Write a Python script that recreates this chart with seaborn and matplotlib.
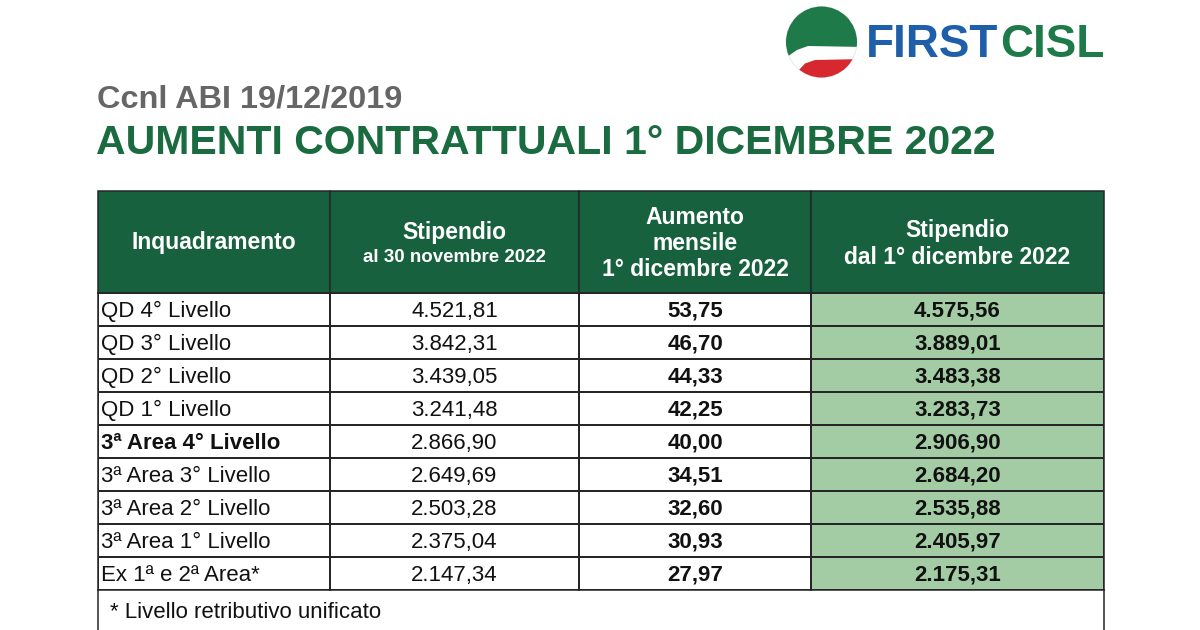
import numpy as np
import pandas as pd
import matplotlib.pyplot as plt
import matplotlib.patches as mpatches
from matplotlib.colors import ListedColormap
import seaborn as sns

# Table data
inquadramento = ["QD 4° Livello", "QD 3° Livello", "QD 2° Livello", "QD 1° Livello",
                 "3ª Area 4° Livello", "3ª Area 3° Livello", "3ª Area 2° Livello",
                 "3ª Area 1° Livello", "Ex 1ª e 2ª Area*"]
stipendio_nov = [4521.81, 3842.31, 3439.05, 3241.48, 2866.90, 2649.69, 2503.28, 2375.04, 2147.34]
aumento = [53.75, 46.70, 44.33, 42.25, 40.00, 34.51, 32.60, 30.93, 27.97]
stipendio_dic = [4575.56, 3889.01, 3483.38, 3283.73, 2906.90, 2684.20, 2535.88, 2405.97, 2175.31]
bold_rows = ["3ª Area 4° Livello"]

headers = [["Inquadramento"],
           ["Stipendio", "al 30 novembre 2022"],
           ["Aumento", "mensile", "1° dicembre 2022"],
           ["Stipendio", "dal 1° dicembre 2022"]]
footnote = "* Livello retributivo unificato"

DARK_GREEN = "#17613f"
LIGHT_GREEN = "#a3cca5"
TITLE_GREEN = "#1b6b40"
LINE = "#262626"

sns.set_theme(style="white")
plt.rcParams['font.family'] = ['Liberation Sans', 'DejaVu Sans']


def it_fmt(v):
    s = f"{v:,.2f}"
    return s.replace(",", "X").replace(".", ",").replace("X", ".")


table = pd.DataFrame({
    "inq": inquadramento,
    "nov": [it_fmt(v) for v in stipendio_nov],
    "aum": [it_fmt(v) for v in aumento],
    "dic": [it_fmt(v) for v in stipendio_dic],
})

W, H = 1200, 630
fig = plt.figure(figsize=(12, 6.3), dpi=100)
bg = fig.add_axes([0, 0, 1, 1])
bg.set_xlim(0, W)
bg.set_ylim(H, 0)
bg.axis("off")

# Logo
cx, cy, r = 821.5, 42, 35.5
circle = mpatches.Circle((cx, cy), r, transform=bg.transData)
green_part = mpatches.Polygon([(780, 0), (865, 0), (865, 47), (808, 46), (797, 50), (784, 59)],
                              closed=True, facecolor="#1e7a48", edgecolor="none")
red_part = mpatches.Polygon([(799, 70), (805, 63.5), (815, 60), (865, 59), (865, 85), (799, 85)],
                            closed=True, facecolor="#d7282f", edgecolor="none")
bg.add_patch(mpatches.Circle((cx, cy), r, facecolor="white", edgecolor="#e6e6e6", lw=0.6))
for p in (green_part, red_part):
    bg.add_patch(p)
    p.set_clip_path(circle)
bg.text(866, 45, "FIRST", color="#1f5ea8", fontsize=33, fontweight="bold", va="center", ha="left")
bg.text(1105, 45, "CISL", color="#1e7a48", fontsize=33, fontweight="bold", va="center", ha="right")

# Titles
bg.text(97, 100, "Ccnl ABI 19/12/2019", color="#666666", fontsize=23.4, fontweight="bold", va="center")
bg.text(96, 143, "AUMENTI CONTRATTUALI 1° DICEMBRE 2022", color=TITLE_GREEN, fontsize=29.5,
        fontweight="bold", va="center")

# Header
col_edges = [98, 330, 579, 811, 1104]
head_top, head_bot = 191, 293
row_h = 33
body_bot = head_bot + row_h * len(table)

for i, lines in enumerate(headers):
    x0, x1 = col_edges[i], col_edges[i + 1]
    bg.add_patch(mpatches.Rectangle((x0, head_top), x1 - x0, head_bot - head_top,
                                    facecolor=DARK_GREEN, edgecolor=LINE, lw=1.1))
    xc = (x0 + x1) / 2
    if len(lines) == 1:
        bg.text(xc, 243, lines[0], color="white", fontsize=16.5, fontweight="bold", ha="center", va="center")
    elif len(lines) == 2 and i == 1:
        bg.text(xc, 233, lines[0], color="white", fontsize=16.5, fontweight="bold", ha="center", va="center")
        bg.text(xc, 257, lines[1], color="white", fontsize=13.5, fontweight="bold", ha="center", va="center")
    elif len(lines) == 2:
        bg.text(xc, 231, lines[0], color="white", fontsize=16.5, fontweight="bold", ha="center", va="center")
        bg.text(xc, 257, lines[1], color="white", fontsize=16.5, fontweight="bold", ha="center", va="center")
    else:
        for k, ln in enumerate(lines):
            bg.text(xc, 218 + 26 * k, ln, color="white", fontsize=16.5, fontweight="bold",
                    ha="center", va="center")

# Body columns as seaborn heatmaps
cols = ["inq", "nov", "aum", "dic"]
fills = [0, 0, 0, 1]
weights = ["normal", "normal", "bold", "bold"]
cmap = ListedColormap(["white", LIGHT_GREEN])
dy = 0.06  # nudge text down a little so digits sit centred in the row
for i, col in enumerate(cols):
    x0, x1 = col_edges[i], col_edges[i + 1]
    ax = fig.add_axes([x0 / W, 1 - body_bot / H, (x1 - x0) / W, (body_bot - head_bot) / H])
    fill = pd.DataFrame({col: [fills[i]] * len(table)})
    annot = table[[col]].values if i > 0 else False
    sns.heatmap(fill, ax=ax, cmap=cmap, vmin=0, vmax=1, cbar=False,
                annot=annot, fmt="", linewidths=1.1, linecolor=LINE,
                xticklabels=False, yticklabels=False,
                annot_kws={"fontsize": 16, "fontweight": weights[i], "color": "#111111"})
    for t in ax.texts:
        xt, yt = t.get_position()
        t.set_position((xt, yt + dy))
    if i == 0:
        for j, name in enumerate(table[col]):
            ax.text(0.012, j + 0.5 + dy, name, fontsize=16, color="#111111", va="center", ha="left",
                    fontweight="bold" if name in bold_rows else "normal")
    for sp in ax.spines.values():
        sp.set_visible(True)
        sp.set_color(LINE)
        sp.set_linewidth(1.1)

# Footnote row (runs past the bottom edge)
bg.plot([col_edges[0], col_edges[0]], [body_bot, H + 5], color=LINE, lw=1.1)
bg.plot([col_edges[-1], col_edges[-1]], [body_bot, H + 5], color=LINE, lw=1.1)
bg.text(110, 612, footnote, fontsize=16, color="#111111", va="center", ha="left")

fig.savefig("out.png", dpi=100, facecolor="white")
